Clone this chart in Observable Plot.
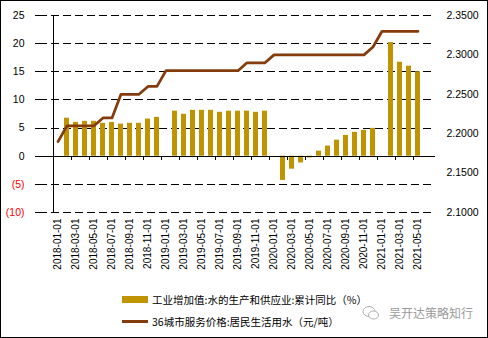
<!DOCTYPE html>
<html>
<head>
<meta charset="utf-8">
<script src="https://cdn.jsdelivr.net/npm/d3@7"></script>
<script src="https://cdn.jsdelivr.net/npm/@observablehq/plot@0.6"></script>
<style>
  html, body { margin: 0; padding: 0; background: #fff; }
  #frame { position: relative; width: 488px; height: 338px; box-sizing: border-box; border: 1px solid #000; overflow: hidden; font-family: "Liberation Sans", Arial, sans-serif; }
  #chart { position: absolute; left: 0; top: 0; width: 486px; height: 275px; }
  #chart svg { position: absolute; left: 0; top: 0; overflow: visible; }
  .leg { position: absolute; left: 121px; height: 14px; display: flex; align-items: center; font-family: "Noto Sans CJK SC", sans-serif; font-size: 10.5px; color: #000; white-space: nowrap; }
  .sw { width: 26px; margin-right: 4px; }
  #wm { position: absolute; left: 361px; top: 303px; display: flex; align-items: center; font-family: "Noto Sans CJK SC", sans-serif; font-size: 12px; color: #9a9a9a; white-space: nowrap; }
</style>
</head>
<body>
<div id="frame">
  <div id="chart"></div>
  <div class="leg" style="top:291px"><div class="sw" style="height:7px;background:#C09400"></div><span>工业增加值:水的生产和供应业:累计同比（%）</span></div>
  <div class="leg" style="top:313px"><div class="sw" style="height:3px;background:#843C0C"></div><span>36城市服务价格:居民生活用水（元/吨）</span></div>
  <div id="wm">
    <svg width="18" height="16" viewBox="0 0 18 16" style="margin-right:9px">
      <ellipse cx="7" cy="6.5" rx="6" ry="5" fill="none" stroke="#b0b0b0" stroke-width="1"/>
      <ellipse cx="11.5" cy="10" rx="5" ry="4" fill="#fff" stroke="#b0b0b0" stroke-width="1"/>
    </svg>
    <span>吴开达策略知行</span>
  </div>
</div>
<script>
const dates = [
  "2018-01-01","2018-02-01","2018-03-01","2018-04-01","2018-05-01","2018-06-01",
  "2018-07-01","2018-08-01","2018-09-01","2018-10-01","2018-11-01","2018-12-01",
  "2019-01-01","2019-02-01","2019-03-01","2019-04-01","2019-05-01","2019-06-01",
  "2019-07-01","2019-08-01","2019-09-01","2019-10-01","2019-11-01","2019-12-01",
  "2020-01-01","2020-02-01","2020-03-01","2020-04-01","2020-05-01","2020-06-01",
  "2020-07-01","2020-08-01","2020-09-01","2020-10-01","2020-11-01","2020-12-01",
  "2021-01-01","2021-02-01","2021-03-01","2021-04-01","2021-05-01"
];
const growth = [
  null, 6.75, 6.0, 6.2, 6.2, 5.85, 6.0, 5.7, 5.85, 5.85, 6.6, 6.9,
  null, 8.0, 7.45, 8.15, 8.15, 8.15, 7.8, 8.0, 8.0, 8.0, 7.8, 8.0,
  null, -4.3, -2.3, -1.2, -0.3, 0.9, 1.8, 2.85, 3.7, 4.25, 4.6, 4.95,
  null, 20.2, 16.7, 16.0, 15.0
];
const price = [
  2.19, 2.21, 2.21, 2.21, 2.21, 2.22, 2.22, 2.25, 2.25, 2.25, 2.26, 2.26,
  2.28, 2.28, 2.28, 2.28, 2.28, 2.28, 2.28, 2.28, 2.28, 2.29, 2.29, 2.29,
  2.30, 2.30, 2.30, 2.30, 2.30, 2.30, 2.30, 2.30, 2.30, 2.30, 2.30, 2.31,
  2.33, 2.33, 2.33, 2.33, 2.33
];
const leftTicksPos = [0, 5, 10, 15, 20, 25];
const leftTicksNeg = [-10, -5];
const gridTicks = [-10, -5, 5, 10, 15, 20, 25];
const rightTicks = [2.10, 2.15, 2.20, 2.25, 2.30, 2.35];

const BAR = "#C09400", LINE = "#843C0C";
const W = 486, H = 275, ML = 38, MR = 52, MT = 14, MB = 64;
const step = (W - ML - MR) / dates.length;

const rows = dates.map((d, i) => ({date: d, growth: growth[i], price: price[i]}));
const labelDates = dates.filter((d, i) => i % 2 === 0);
const tickDates = dates.filter((d, i) => i % 2 === 0 && i > 0);

const xOpt = {type: "band", domain: dates, paddingInner: 0.48, paddingOuter: 0.24};
const common = {width: W, height: H, marginLeft: ML, marginRight: MR, marginTop: MT, marginBottom: MB,
  style: {background: "transparent", fontFamily: "'Liberation Sans', Arial, sans-serif", overflow: "visible"}};
const crisp = {shapeRendering: "crispEdges"};

const p1 = Plot.plot({
  ...common,
  x: xOpt,
  y: {domain: [-10, 25]},
  marks: [
    Plot.gridY(gridTicks, {stroke: "#000", strokeOpacity: 1, strokeWidth: 1, strokeDasharray: "8,4", ...crisp}),
    Plot.barY(rows.filter(d => d.growth != null), {x: "date", y: "growth", fill: BAR}),
    Plot.ruleY([0], {stroke: "#000", strokeWidth: 1, ...crisp}),
    Plot.ruleX(tickDates, {x: d => d, y1: 0, y2: -0.75, dx: -step / 2, stroke: "#000", ...crisp}),
    Plot.ruleX([dates[0]], {x: d => d, y1: -10, y2: 25, dx: -step / 2, stroke: "#000", ...crisp}),
    Plot.axisY(leftTicksPos, {tickSize: 4, tickPadding: 11, fontSize: 10.5, label: null, fill: "#000", ...crisp}),
    Plot.axisY(leftTicksNeg, {tickSize: 4, tickPadding: 11, fontSize: 10.5, label: null, fill: "#FF0000",
      tickFormat: d => `(${-d})`, ...crisp}),
    Plot.axisX(labelDates, {tickRotate: -90, tickSize: 0, tickPadding: 6, fontSize: 10, label: null,
      fill: "#000", tickFormat: d => d})
  ]
});

const p2 = Plot.plot({
  ...common,
  x: {...xOpt, axis: null},
  y: {domain: [2.10, 2.35]},
  marks: [
    Plot.lineY(rows, {x: "date", y: "price", stroke: LINE, strokeWidth: 2.75}),
    Plot.axisY(rightTicks, {anchor: "right", tickSize: 0, tickPadding: 11, fontSize: 10.5, label: null,
      fill: "#000", tickFormat: d3.format(".4f")})
  ]
});

const chart = document.getElementById("chart");
chart.appendChild(p1);
chart.appendChild(p2);
</script>
</body>
</html>
